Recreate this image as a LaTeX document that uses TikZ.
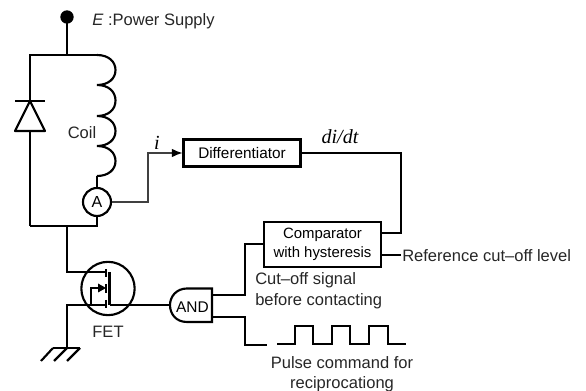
\documentclass[tikz,border=0pt]{standalone}
\usepackage{fontspec}
\setmainfont{Liberation Sans}
\newfontfamily\serifit[ItalicFont=Liberation Serif Italic]{Liberation Serif}
\usetikzlibrary{arrows.meta,calc}
\tikzset{
  wire/.style={line width=1.6pt,line join=miter},
  thin wire/.style={line width=0.9pt,draw=black!75},
  blockbox/.style={draw,line width=1.6pt,rectangle,inner sep=0pt,font=\fontsize{11.2pt}{12pt}\selectfont,align=center},
  lbl/.style={inner sep=0pt,font=\fontsize{12.4pt}{14pt}\selectfont,text=black!85,align=center},
  meter/.style={draw,circle,line width=1.6pt,inner sep=0pt,minimum size=21pt,fill=white,font=\fontsize{12pt}{14pt}\selectfont},
}
\begin{document}
\begin{tikzpicture}[x=0.75pt,y=-0.75pt]
\useasboundingbox (0,0) rectangle (586,391);
% coordinates
\coordinate (supply) at (67,17);
\coordinate (top) at (67,55);
\coordinate (tl) at (30,55);
\coordinate (c0) at (97,55);
\coordinate (c4) at (97,176);
\coordinate (bl) at (30,226);
\coordinate (bj) at (67,226);
\coordinate (br) at (97,226);
\coordinate (drain) at (106,272);
\coordinate (source) at (106,305);
\coordinate (sj) at (67,305);
\coordinate (gnd) at (67,348);
\node[meter] (amm) at (97,202) {A};
\node[blockbox,minimum width=87.75pt,minimum height=20.25pt,font=\fontsize{11.5pt}{12pt}\selectfont] (diff) at (242,153) {Differentiator};
\node[blockbox,minimum width=87.75pt,minimum height=33.75pt] (comp) at (322.5,244.5) {Comparator\\[2.5pt]with hysteresis};
% supply
\fill (supply) circle (5pt);
\draw[wire] (supply) -- (top);
\draw[wire] (bl) -- (tl) -- (c0);
\draw[wire] (c0)
  .. controls (109,55) and (115.5,62) .. (115.5,70)
  .. controls (115.5,79) and (108,85) .. (97,85)
  .. controls (109,85) and (115.5,92) .. (115.5,100.5)
  .. controls (115.5,110) and (108,116) .. (97,116)
  .. controls (109,116) and (115.5,123) .. (115.5,131)
  .. controls (115.5,140) and (108,146) .. (97,146)
  .. controls (109,146) and (115.5,153) .. (115.5,161)
  .. controls (115.5,170) and (108,176) .. (c4);
\draw[wire] (c4) -- (amm.north);
\draw[wire] (amm.south) -- (br) -- (bl);
% diode
\draw[wire,fill=white,line join=round] (30,101) -- (45,131) -- (15,131) -- cycle;
\draw[wire] (15,101) -- (45,101);
% FET
\draw[wire] (bj) -- (67,272) -- (drain);
\draw[wire] (108,288.5) circle (20pt);
\draw[wire] (106,269) -- (106,277);
\draw[wire] (106,284) -- (106,293);
\draw[wire] (106,300) -- (106,308);
\draw[wire] (109.5,272) -- (109.5,305);
\draw[wire] (gnd) -- (sj) -- (source);
\draw[wire] (91,305) -- (91,288) -- (100,288);
\fill (106,288) -- (98,283.5) -- (98,292.5) -- cycle;
\node[lbl] (fetl) at (108,331.5) {FET};
% ground
\draw[wire] (53,348) -- (80,348);
\draw[wire] (53,348) -- (41,361);
\draw[wire] (67,348) -- (54,361);
\draw[wire] (80,348) -- (67,361);
% AND
\node[inner sep=0pt,font=\fontsize{11.6pt}{12pt}\selectfont] (and) at (192.5,307) {AND};
\draw[wire] (212,288.5) -- (187,288.5) .. controls (176,288.5) and (170,297) .. (170,305)
  .. controls (170,314) and (176,322) .. (187,322) -- (212,322) -- cycle;
\draw[wire] (109.5,305) -- (170,305);
\draw[wire] (212,295) -- (245,295) -- (245,244) -- (comp.west |- 0,244);
\draw[wire] (212,317) -- (245,317) -- (245,345) -- (267,345);
% pulse
\draw[wire,line width=1.2pt] (277,344) -- (295,344) -- (295,326) -- (313,326) -- (313,344) -- (332,344) -- (332,326) -- (350,326) -- (350,344) -- (369,344) -- (369,326) -- (388,326) -- (388,344) -- (406,344);
% signal path
\draw[thin wire] (amm.east) -- (148,202) -- (148,153) -- (172,153);
\draw[thin wire,draw=black,-{Latex[length=8pt,width=6.5pt]}] (172,153) -- (diff.west);
\draw[wire] (diff.east) -- (401,153) -- (401,233) -- (comp.east |- 0,233);
\coordinate (refl) at (401,255);
\draw[wire] (comp.east |- 0,255) -- (refl);
% labels
\node[lbl,anchor=west] (pow) at (92,21) {\textit{E} :Power Supply};
\node[lbl] (coil) at (82,133) {Coil};
\node[inner sep=0pt,font=\serifit\fontsize{15pt}{16pt}\selectfont\itshape] (il) at (157,143) {i};
\node[inner sep=0pt,font=\serifit\fontsize{15pt}{16pt}\selectfont\itshape] (dl) at (340,137) {di/dt};
\node[lbl,anchor=west] (ref) at (402,256) {Reference cut–off level};
\node[lbl,anchor=west] (cut) at (255,280) {Cut–off signal};
\node[lbl,anchor=west] (bef) at (255,301) {before contacting};
\node[lbl] (p1) at (342,363) {Pulse command for};
\node[lbl] (p2) at (342,384) {reciprocationg};
\end{tikzpicture}
\end{document}
